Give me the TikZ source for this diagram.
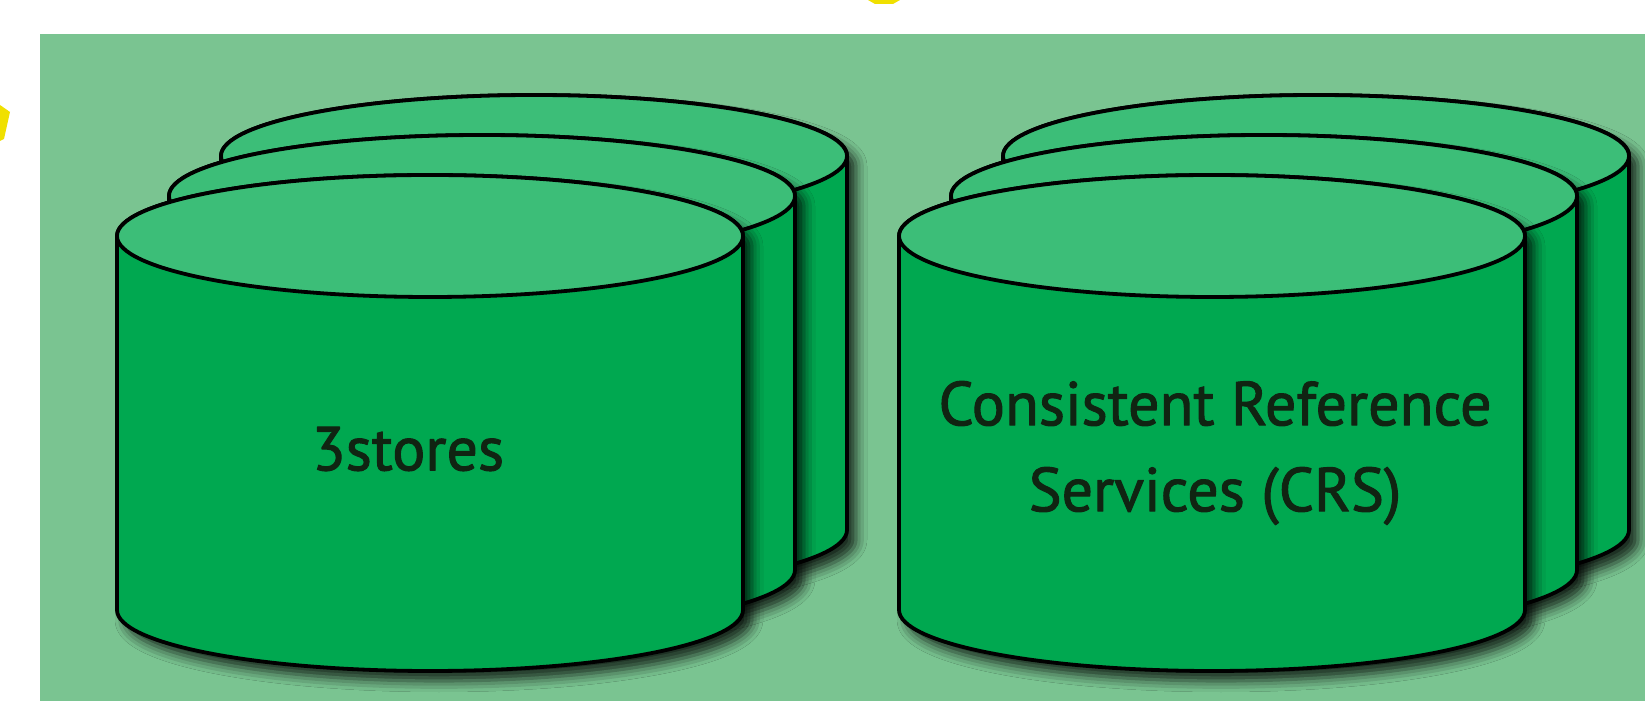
\documentclass[tikz,border=0pt]{standalone}
\usepackage{fontspec}
\setmainfont{PT Sans}
\newfontfamily\labelfont{PT Sans}[FakeBold=1.6]
\usepackage{tikz}
\usetikzlibrary{shadows.blur}
\definecolor{panelgreen}{RGB}{122,196,145}
\definecolor{bodygreen}{RGB}{0,168,80}
\definecolor{topgreen}{RGB}{60,190,120}
\definecolor{labelgreen}{RGB}{16,36,18}
\definecolor{arrowyellow}{RGB}{240,224,0}
\newcommand{\storecyl}[3]{%
  \draw[cylbody] (#1-313,#2) -- (#1-313,#3)
    arc[start angle=180,end angle=360,x radius=313,y radius=61]
    -- (#1+313,#2) arc[start angle=0,end angle=180,x radius=313,y radius=61] -- cycle;
  \draw[cyltop] (#1,#2) ellipse[x radius=313,y radius=61];
}
\begin{document}
\begin{tikzpicture}[x=1pt,y=1pt,line join=round,
  cylbody/.style={fill=bodygreen,draw=black,line width=3.8,
    blur shadow={shadow xshift=9pt,shadow yshift=-10pt,shadow blur radius=11pt,shadow opacity=80}},
  cyltop/.style={fill=topgreen,draw=black,line width=3.8},
  storelabel/.style={text=labelgreen,font=\labelfont\fontsize{62}{86}\selectfont,align=center}]
\useasboundingbox (0,0) rectangle (1645,701);
\fill[white] (0,0) rectangle (1645,701);
% bits of yellow arrows from outside
\fill[arrowyellow] (0,596) -- (10,589) -- (4,562) -- (0,560) -- cycle;
\fill[arrowyellow] (868,701) -- (900,701) -- (893,697) -- (875,697) -- cycle;
\fill[panelgreen] (40,0) rectangle (1645,667);
% left stack
\storecyl{534}{545}{171}
\storecyl{482}{505}{131}
\storecyl{430}{465}{91}
% right stack
\storecyl{1316}{545}{171}
\storecyl{1264}{505}{131}
\storecyl{1212}{465}{91}
\node (threestores) [storelabel] at (408,252) {3stores};
\node (crs) [storelabel] at (1215,248) {Consistent Reference\\Services (CRS)};
\end{tikzpicture}
\end{document}
